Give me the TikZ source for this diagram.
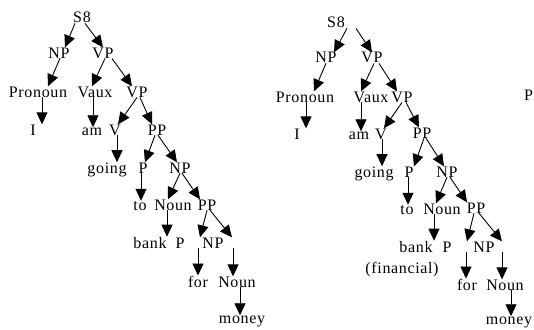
\documentclass[tikz,border=0pt]{standalone}
\usepackage{fontspec}
\setmainfont{Liberation Serif}[LetterSpace=4]
\usepackage{tikz}
\usetikzlibrary{arrows.meta}

\newcommand{\treefont}{\fontsize{16}{19}\selectfont}

\begin{document}
\begin{tikzpicture}[x=1pt, y=-1pt, >={Triangle[length=12pt, width=11pt]},
    lbl/.style={anchor=base, inner sep=0pt, font=\treefont},
    arr/.style={->, line width=0.9pt}]
    \useasboundingbox (0,0) rectangle (534,329);
    % first tree
    \node[lbl] (s8a) at (82,23) {S8};
    \node[lbl] (npa) at (59,58) {NP};  \node[lbl] (vpa) at (103,58) {VP};
    \node[lbl] (prona) at (38,97) {Pronoun};  \node[lbl] (vauxa) at (95,97) {Vaux};
    \node[lbl] (vpb) at (137,97) {VP};
    \node[lbl] (ia) at (33,135) {I};  \node[lbl] (ama) at (92,135) {am};
    \node[lbl] (va) at (115,135) {V};  \node[lbl] (ppa) at (157,135) {PP};
    \node[lbl] (goinga) at (107,173) {going};  \node[lbl] (pa) at (143,173) {P};
    \node[lbl] (npb) at (180,173) {NP};
    \node[lbl] (toa) at (140,210) {to};  \node[lbl] (nouna) at (173,210) {Noun};
    \node[lbl] (ppb) at (207,210) {PP};
    \node[lbl] (banka) at (150,248) {bank};  \node[lbl] (pb) at (180,248) {P};
    \node[lbl] (npc) at (213,248) {NP};
    \node[lbl] (fora) at (198,287) {for};  \node[lbl] (nounb) at (237,287) {Noun};
    \node[lbl] (moneya) at (242,323) {money};

    \draw[arr] ([xshift=-7pt]s8a.south) -- ([xshift=6pt]npa.north);
    \draw[arr] ([xshift=3pt]s8a.south) -- (vpa.north);
    \draw[arr] ([xshift=1pt]npa.south) -- ([xshift=10pt]prona.north);
    \draw[arr] ([xshift=2pt]vpa.south) -- ([xshift=-3pt]vauxa.north);
    \draw[arr] ([xshift=9pt]vpa.south) -- ([xshift=-5pt]vpb.north);
    \draw[arr] ([xshift=4pt]prona.south) -- ([xshift=9pt]ia.north);
    \draw[arr] ([xshift=-2pt]vauxa.south) -- ([xshift=1pt]ama.north);
    \draw[arr] (vpb.south) -- ([xshift=3pt]va.north);
    \draw[arr] ([xshift=3pt]vpb.south) -- ([xshift=-5pt]ppa.north);
    \draw[arr] ([xshift=2pt]va.south) -- ([xshift=10pt]goinga.north);
    \draw[arr] ([xshift=-2pt]ppa.south) -- ([xshift=2pt]pa.north);
    \draw[arr] ([xshift=1pt]ppa.south) -- ([xshift=-3pt]npb.north);
    \draw[arr] ([xshift=-2pt]pa.south) -- ([xshift=1pt]toa.north);
    \draw[arr] (npb.south) -- ([xshift=-5pt]nouna.north);
    \draw[arr] ([xshift=2pt]npb.south) -- ([xshift=-7pt]ppb.north);
    \draw[arr] ([xshift=-6pt]nouna.south) -- ([xshift=17pt]banka.north);
    \draw[arr] (ppb.south) -- ([xshift=20pt]pb.north);
    \draw[arr] ([xshift=3pt]ppb.south) -- ([xshift=19pt]npc.north);
    \draw[arr] ([xshift=18pt]pb.south) -- (fora.north);
    \draw[arr] ([xshift=20pt]npc.south) -- ([xshift=-4pt]nounb.north);
    \draw[arr] ([xshift=3pt]nounb.south) -- ([xshift=-2pt]moneya.north);

    % second tree
    \node[lbl] (s8b) at (336,28) {S8};
    \node[lbl] (npd) at (326,63) {NP};  \node[lbl] (vpc) at (372,63) {VP};
    \node[lbl] (pronb) at (305,102) {Pronoun};  \node[lbl] (vauxb) at (371,102) {Vaux};
    \node[lbl] (vpd) at (402,102) {VP};
    \node[lbl, anchor=base west] (pcut) at (524,100) {P};
    \node[lbl] (ib) at (297,139) {I};  \node[lbl] (amb) at (359,139) {am};
    \node[lbl] (vb) at (381,139) {V};  \node[lbl] (ppc) at (422,138) {PP};
    \node[lbl] (goingb) at (374,177) {going};  \node[lbl] (pc) at (409,177) {P};
    \node[lbl] (npe) at (447,177) {NP};
    \node[lbl] (tob) at (407,214) {to};  \node[lbl] (nounc) at (442,214) {Noun};
    \node[lbl] (ppd) at (476,213) {PP};
    \node[lbl] (bankb) at (416,252) {bank};  \node[lbl] (pd) at (447,252) {P};
    \node[lbl] (npf) at (484,252) {NP};
    \node[lbl] (finb) at (402,273) {(financial)};
    \node[lbl] (forb) at (467,290) {for};  \node[lbl] (nound) at (505,290) {Noun};
    \node[lbl] (moneyb) at (509,324) {money};

    \draw[arr] ([xshift=11pt]s8b.south) -- ([xshift=8pt]npd.north);
    \draw[arr] ([xshift=20pt]s8b.south) -- (vpc.north);
    \draw[arr] (npd.south) -- ([xshift=9pt]pronb.north);
    \draw[arr] ([xshift=2pt]vpc.south) -- ([xshift=-10pt]vauxb.north);
    \draw[arr] ([xshift=7pt]vpc.south) -- ([xshift=-5pt]vpd.north);
    \draw[arr] ([xshift=1pt]pronb.south) -- ([xshift=9pt]ib.north);
    \draw[arr] ([xshift=-10pt]vauxb.south) -- ([xshift=2pt]amb.north);
    \draw[arr] (vpd.south) -- ([xshift=3pt]vb.north);
    \draw[arr] ([xshift=4pt]vpd.south) -- ([xshift=-3pt]ppc.north);
    \draw[arr] ([xshift=1pt]vb.south) -- ([xshift=8pt]goingb.north);
    \draw[arr] ([xshift=2pt]ppc.south) -- ([xshift=5pt]pc.north);
    \draw[arr] ([xshift=4pt]ppc.south) -- ([xshift=-3pt]npe.north);
    \draw[arr] ([xshift=-1pt]pc.south) -- ([xshift=1pt]tob.north);
    \draw[arr] (npe.south) -- ([xshift=-6pt]nounc.north);
    \draw[arr] ([xshift=3pt]npe.south) -- ([xshift=-9pt]ppd.north);
    \draw[arr] ([xshift=-8pt]nounc.south) -- ([xshift=18pt]bankb.north);
    \draw[arr] ([xshift=-2pt]ppd.south) -- ([xshift=20pt]pd.north);
    \draw[arr] ([xshift=3pt]ppd.south) -- ([xshift=18pt]npf.north);
    \draw[arr] ([xshift=19pt]pd.south) -- ([xshift=-1pt]forb.north);
    \draw[arr] ([xshift=18pt]npf.south) -- ([xshift=-3pt]nound.north);
    \draw[arr] ([xshift=6pt]nound.south) -- ([xshift=2pt]moneyb.north);
\end{tikzpicture}
\end{document}
